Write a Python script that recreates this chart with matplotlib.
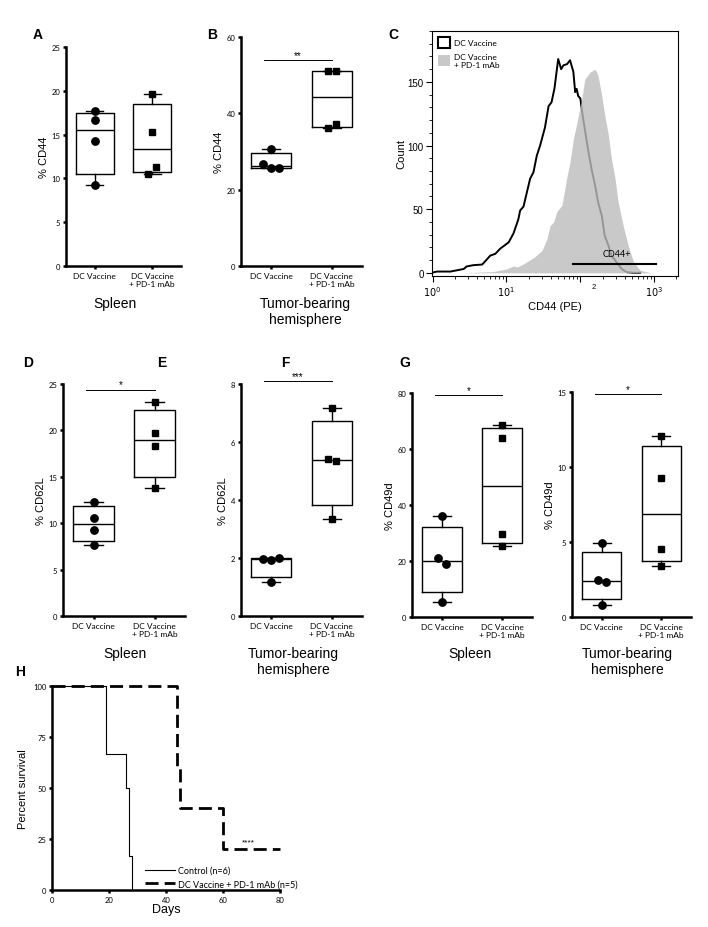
import numpy as np
import matplotlib
matplotlib.use("Agg")
import matplotlib.pyplot as plt
from matplotlib.patches import Patch
from matplotlib.ticker import MultipleLocator, LogLocator, NullFormatter
from matplotlib.transforms import blended_transform_factory

plt.rcParams['font.family'] = ['Liberation Sans', 'DejaVu Sans']

# --------------------------------------------------------
# DATA
# --------------------------------------------------------

groups = ["DC Vaccine", "DC Vaccine\n+ PD-1 mAb"]

cd44_spleen_dc = [17.7, 16.7, 14.3, 9.2]
cd44_spleen_pd1 = [19.6, 15.3, 10.5, 11.3]
cd44_tumor_dc = [30.7, 26.6, 25.7, 25.7]
cd44_tumor_pd1 = [51.0, 51.0, 36.2, 37.3]

cd62l_spleen_dc = [12.3, 10.6, 9.25, 7.7]
cd62l_spleen_pd1 = [23.1, 19.7, 18.3, 13.8]
cd62l_tumor_dc = [1.98, 1.93, 2.0, 1.17]
cd62l_tumor_pd1 = [7.17, 5.41, 5.35, 3.34]

cd49d_spleen_dc = [35.9, 21.2, 19.0, 5.4]
cd49d_spleen_pd1 = [68.6, 64.0, 29.7, 25.2]
cd49d_tumor_dc = [4.92, 2.5, 2.33, 0.78]
cd49d_tumor_pd1 = [12.08, 9.26, 4.54, 3.43]

# flow histogram (log10 CD44-PE intensity, count)
hist_dc_log = [-0.02, 0.06, 0.24, 0.42, 0.46, 0.55, 0.67, 0.71, 0.78, 0.85, 0.915,
               1.03, 1.095, 1.16, 1.185, 1.23, 1.32, 1.365, 1.41, 1.455, 1.52, 1.57,
               1.61, 1.65, 1.70, 1.74, 1.77, 1.82, 1.86, 1.905, 1.93, 1.95, 1.97,
               2.0, 2.02, 2.06, 2.11, 2.15, 2.20, 2.24, 2.29, 2.33, 2.38, 2.42,
               2.49, 2.56, 2.63, 2.72, 2.81]
hist_dc_count = [0, 1, 1, 3, 5, 6, 6.5, 9, 13.5, 15, 19,
                 24, 31, 42, 49, 52, 74, 79, 92, 100, 114, 131,
                 134, 145, 168, 160, 163, 164, 167, 158, 142, 144.5, 139,
                 137, 128, 113, 95, 82, 68.5, 55.5, 45, 29, 21.5, 13.6,
                 8.4, 3, 0.5, 0, 0]
hist_pd1_log = [0.45, 0.6, 0.82, 1.0, 1.1, 1.14, 1.23, 1.37, 1.48, 1.55, 1.59, 1.64,
                1.68, 1.75, 1.82, 1.86, 1.905, 1.95, 2.02, 2.06, 2.13, 2.20, 2.24,
                2.29, 2.33, 2.38, 2.42, 2.47, 2.51, 2.58, 2.65, 2.72, 2.81, 2.96]
hist_pd1_count = [0, 0.5, 1, 3, 5.5, 4.5, 7, 12, 17.5, 27, 37, 40,
                  48, 53, 76, 87, 105, 117, 137, 152, 157.6, 160, 155,
                  139, 124, 108, 90, 74, 56, 37, 21, 8.5, 2, 0]

# survival
control_days = [0, 19, 26, 27, 28]
control_surv = [100, 66.7, 50, 16.7, 0]
combo_days = [0, 44, 45, 60, 80]
combo_surv = [100, 60, 40, 20, 20]

# --------------------------------------------------------
# FIGURE
# --------------------------------------------------------

W, H = 708, 928
fig = plt.figure(figsize=(W / 100, H / 100), dpi=100)


def add_ax(l, t, r, b):
    return fig.add_axes([l / W, 1 - b / H, (r - l) / W, (b - t) / H])


def ftext(x, y, s, **kw):
    fig.text(x / W, 1 - y / H, s, **kw)


def swarm(vals, tol, step=0.135):
    vals = np.asarray(vals, dtype=float)
    order = np.argsort(vals, kind='stable')
    clusters = [[order[0]]]
    for i in order[1:]:
        if vals[i] - vals[clusters[-1][-1]] <= tol:
            clusters[-1].append(i)
        else:
            clusters.append([i])
    off = np.zeros(len(vals))
    for c in clusters:
        c = sorted(c)
        for j, idx in enumerate(c):
            off[idx] = (j - (len(c) - 1) / 2) * step
    return off


def stats(v):
    q1, med, q3 = np.percentile(v, [25, 50, 75], method='weibull')
    return dict(med=med, q1=q1, q3=q3, whislo=min(v), whishi=max(v), fliers=[])


def box_panel(rect, dc, pd1, ymax, ystep, ylabel, stars=None, bar_y=None):
    ax = add_ax(*rect)
    lp = dict(color='k', lw=1.0)
    ax.bxp([stats(dc), stats(pd1)], positions=[1, 2], widths=0.66, capwidths=0.3,
           showfliers=False, boxprops=lp, medianprops=lp, whiskerprops=lp, capprops=lp)
    tol = 0.035 * ymax
    ax.plot(1 + swarm(dc, tol), dc, 'o', color='k', ms=5.3, zorder=4, clip_on=False)
    ax.plot(2 + swarm(pd1, tol), pd1, 's', color='k', ms=4.8, zorder=4, clip_on=False)
    ax.set_xlim(0.5, 2.5)
    ax.set_ylim(0, ymax)
    ax.set_yticks(np.arange(0, ymax + ystep / 2, ystep))
    ax.set_xticks([1, 2], groups)
    ax.spines[['top', 'right']].set_visible(False)
    ax.spines[['left', 'bottom']].set_linewidth(1.8)
    ax.tick_params(direction='out', length=2.5, width=1.8, pad=1.5)
    ax.tick_params(axis='y', labelsize=5.5)
    ax.tick_params(axis='x', labelsize=6)
    for lab in ax.get_xticklabels() + ax.get_yticklabels():
        lab.set_fontfamily('Lato')
    ax.set_ylabel(ylabel, fontsize=8, labelpad=2)
    if stars:
        ax.plot([0.88, 2.0], [bar_y, bar_y], color='k', lw=0.7, clip_on=False)
        ax.text(1.44, bar_y, stars, ha='center', va='bottom', fontsize=7)
    return ax


box_panel((66, 48, 181, 267), cd44_spleen_dc, cd44_spleen_pd1, 25, 5, "% CD44")
box_panel((241, 38, 362, 267), cd44_tumor_dc, cd44_tumor_pd1, 60, 20, "% CD44", "**", 53.9)
box_panel((63, 385, 185, 617), cd62l_spleen_dc, cd62l_spleen_pd1, 25, 5, "% CD62L", "*", 24.4)
box_panel((241, 385, 362, 617), cd62l_tumor_dc, cd62l_tumor_pd1, 8, 2, "% CD62L", "***", 8.09)
box_panel((412, 394, 532, 618), cd49d_spleen_dc, cd49d_spleen_pd1, 80, 20, "% CD49d", "*", 79.3)
box_panel((572, 393, 691, 618), cd49d_tumor_dc, cd49d_tumor_pd1, 15, 5, "% CD49d", "*", 14.85)

# --------------------------------------------------------
# C: HISTOGRAM
# --------------------------------------------------------

axc = add_ax(432, 32, 678, 277)
axc.set_xscale('log')
axc.plot(10 ** np.array(hist_dc_log), hist_dc_count, color='k', lw=1.4, zorder=2)
axc.fill_between(10 ** np.array(hist_pd1_log), hist_pd1_count, color='#bcbcbc',
                 alpha=0.8, lw=0, zorder=3)
axc.set_xlim(0.98, 2100)
axc.set_ylim(-2.5, 190)
for s in axc.spines.values():
    s.set_linewidth(0.8)
axc.set_yticks([0, 50, 100, 150])
axc.yaxis.set_minor_locator(MultipleLocator(10))
axc.xaxis.set_major_locator(LogLocator(base=10, numticks=10))
axc.xaxis.set_minor_locator(LogLocator(base=10, subs=np.arange(2, 10), numticks=20))
axc.xaxis.set_minor_formatter(NullFormatter())
axc.set_xticks([1, 10, 100, 1000], [r'$10^{0}$', r'$10^{1}$', '', r'$10^{3}$'])
axc.tick_params(which='major', direction='out', length=4, width=0.8, labelsize=7, pad=2)
axc.tick_params(which='minor', direction='out', length=2, width=0.6)
trans = blended_transform_factory(axc.transData, axc.transAxes)
axc.text(100 * 10 ** (13 / 74), -0.03, '2', transform=trans, ha='center', va='top', fontsize=5.5)
axc.plot([10 ** 1.906, 10 ** 3.02], [7, 7], color='k', lw=1.5, zorder=4)
axc.text(10 ** 2.5, 12, 'CD44+', ha='center', va='bottom', fontsize=6.5,
         family='Lato', zorder=5)
axc.set_ylabel('Count', fontsize=8, labelpad=1)
axc.set_xlabel('CD44 (PE)', fontsize=8, labelpad=2)
handles = [Patch(facecolor='white', edgecolor='k', lw=1.5, label='DC Vaccine'),
           Patch(facecolor='#c8c8c8', edgecolor='none', label='DC Vaccine\n+ PD-1 mAb')]
leg = axc.legend(handles=handles, loc='upper left', frameon=False, fontsize=6,
                 handlelength=1.5, handleheight=1.6, handletextpad=0.5,
                 borderaxespad=0.3, labelspacing=0.6)
for t in leg.get_texts():
    t.set_fontfamily('Lato')

# --------------------------------------------------------
# H: SURVIVAL
# --------------------------------------------------------

axh = add_ax(52, 687, 280, 891)
axh.plot(control_days, control_surv, drawstyle='steps-post', color='k', lw=0.8,
         label='Control (n=6)', clip_on=False)
axh.plot(combo_days, combo_surv, drawstyle='steps-post', color='k', lw=2.0,
         dashes=(4.7, 2.2), label='DC Vaccine + PD-1 mAb (n=5)', clip_on=False)
axh.set_xlim(0, 80)
axh.set_ylim(0, 100)
axh.set_xticks([0, 20, 40, 60, 80])
axh.set_yticks([0, 25, 50, 75, 100])
axh.spines[['top', 'right']].set_visible(False)
axh.spines[['left', 'bottom']].set_linewidth(1.8)
axh.tick_params(direction='out', length=2.5, width=1.8, labelsize=5.5, pad=1.5)
for lab in axh.get_xticklabels() + axh.get_yticklabels():
    lab.set_fontfamily('Lato')
axh.text(69, 22, '****', ha='center', va='bottom', fontsize=6)
axh.set_ylabel('Percent survival', fontsize=8, labelpad=4)
leg = axh.legend(loc='lower left', bbox_to_anchor=(0.4, 0.0), frameon=False,
                 fontsize=6.5, handlelength=3.3, handletextpad=0.3,
                 labelspacing=0.5, borderaxespad=0.2, borderpad=0)
for t in leg.get_texts():
    t.set_fontfamily('Lato')

# --------------------------------------------------------
# TEXT
# --------------------------------------------------------

ftext(166, 910, 'Days', ha='center', va='center', fontsize=9)

for x, y, s in [(115, 297, 'Spleen'), (305, 297, 'Tumor-bearing\nhemisphere'),
                (125, 647, 'Spleen'), (293, 647, 'Tumor-bearing\nhemisphere'),
                (470, 647, 'Spleen'), (627, 647, 'Tumor-bearing\nhemisphere')]:
    ftext(x, y, s, ha='center', va='top', fontsize=10, linespacing=1.15)

for x, y, s in [(38, 35, 'A'), (212, 35, 'B'), (393, 35, 'C'), (28, 363, 'D'),
                (162, 363, 'E'), (285, 363, 'F'), (405, 363, 'G'), (20, 672, 'H')]:
    ftext(x, y, s, ha='center', va='center', fontsize=10, weight='bold')

fig.savefig('out.png', dpi=100)
